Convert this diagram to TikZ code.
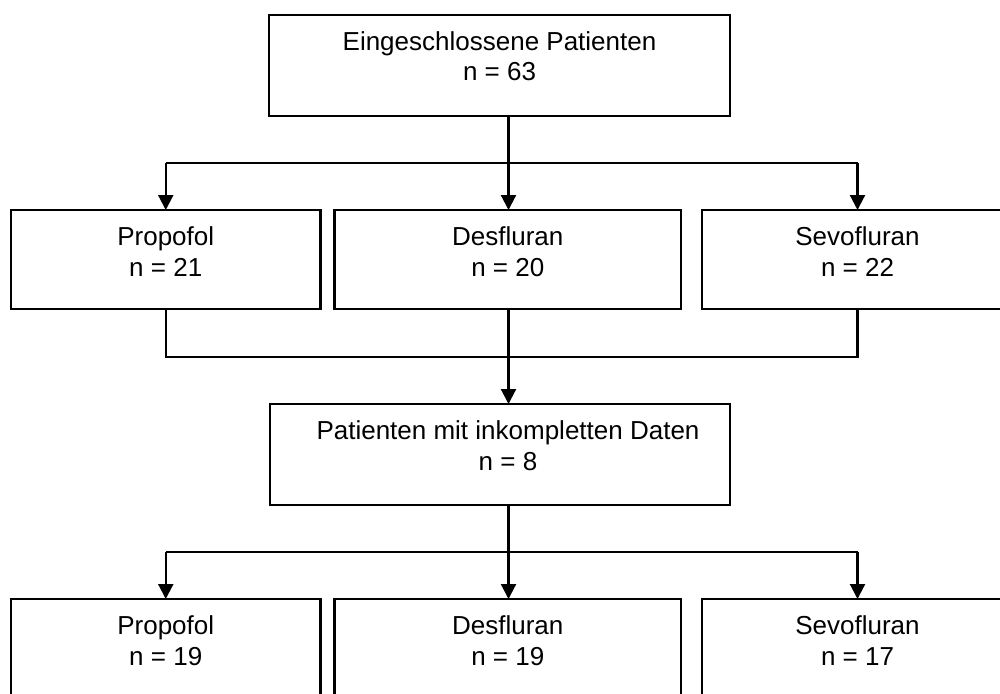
\documentclass[tikz,border=0pt]{standalone}
\usepackage{fontspec}
\setmainfont{Liberation Sans}
\usetikzlibrary{arrows.meta}
\tikzset{
  box/.style={draw=black, line width=2.2pt, rectangle, inner sep=0pt, outer sep=0pt},
  lbl/.style={anchor=base, inner sep=0pt, font=\fontsize{26}{31}\selectfont},
  conn/.style={draw=black, line width=2.2pt},
  arr/.style={conn, -{Triangle[length=15pt,width=15pt]}}
}
\begin{document}
\begin{tikzpicture}[x=1pt,y=-1pt]
\clip (0,0) rectangle (1000,693);
\fill[white] (0,0) rectangle (1000,693);
% boxes
\node[box, minimum width=461pt, minimum height=101pt] (top) at (499.5,65.5) {};
\node[box, minimum width=309.5pt, minimum height=99pt] (p1) at (165.75,259.5) {};
\node[box, minimum width=346.5pt, minimum height=99pt] (d1) at (507.75,259.5) {};
\node[box, minimum width=311pt, minimum height=99pt] (s1) at (857.5,259.5) {};
\node[box, minimum width=460pt, minimum height=101pt] (mid) at (500,454.5) {};
\node[box, minimum width=309.5pt, minimum height=140pt] (p2) at (165.75,669) {};
\node[box, minimum width=346.5pt, minimum height=140pt] (d2) at (507.75,669) {};
\node[box, minimum width=311pt, minimum height=140pt] (s2) at (857.5,669) {};
% texts
\node[lbl] (topA) at ([yshift=-35pt]top.north) {Eingeschlossene Patienten};
\node[lbl] (topB) at ([yshift=-66pt]top.north) {n = 63};
\node[lbl] (p1A) at ([yshift=-35pt]p1.north) {Propofol};
\node[lbl] (p1B) at ([yshift=-66pt]p1.north) {n = 21};
\node[lbl] (d1A) at ([yshift=-35pt]d1.north) {Desfluran};
\node[lbl] (d1B) at ([yshift=-66pt]d1.north) {n = 20};
\node[lbl] (s1A) at ([yshift=-35pt]s1.north) {Sevofluran};
\node[lbl] (s1B) at ([yshift=-66pt]s1.north) {n = 22};
\node[lbl] (midA) at ([yshift=-35pt,xshift=8pt]mid.north) {Patienten mit inkompletten Daten};
\node[lbl] (midB) at ([yshift=-66pt,xshift=8pt]mid.north) {n = 8};
\node[lbl] (p2A) at ([yshift=-35pt]p2.north) {Propofol};
\node[lbl] (p2B) at ([yshift=-66pt]p2.north) {n = 19};
\node[lbl] (d2A) at ([yshift=-35pt]d2.north) {Desfluran};
\node[lbl] (d2B) at ([yshift=-66pt]d2.north) {n = 19};
\node[lbl] (s2A) at ([yshift=-35pt]s2.north) {Sevofluran};
\node[lbl] (s2B) at ([yshift=-66pt]s2.north) {n = 17};
% junction coordinates
\coordinate (j1) at (508.5,163);
\coordinate (j2) at (508.5,356.7);
\coordinate (j3) at (508.5,552);
% first split
\draw[conn] (top.south -| j1) -- (j1);
\draw[conn] (j1 -| p1) -- (j1 -| s1);
\draw[arr] (j1 -| p1) -- (p1.north);
\draw[arr] (j1) -- (d1.north -| j1);
\draw[arr] (j1 -| s1) -- (s1.north);
% merge
\draw[conn] (p1.south) -- (j2 -| p1) -- (j2 -| s1) -- (s1.south);
\draw[conn] (d1.south -| j2) -- (j2);
\draw[arr] (j2) -- (mid.north -| j2);
% second split
\draw[conn] (mid.south -| j3) -- (j3);
\draw[conn] (j3 -| p2) -- (j3 -| s2);
\draw[arr] (j3 -| p2) -- (p2.north);
\draw[arr] (j3) -- (d2.north -| j3);
\draw[arr] (j3 -| s2) -- (s2.north);
\end{tikzpicture}
\end{document}
